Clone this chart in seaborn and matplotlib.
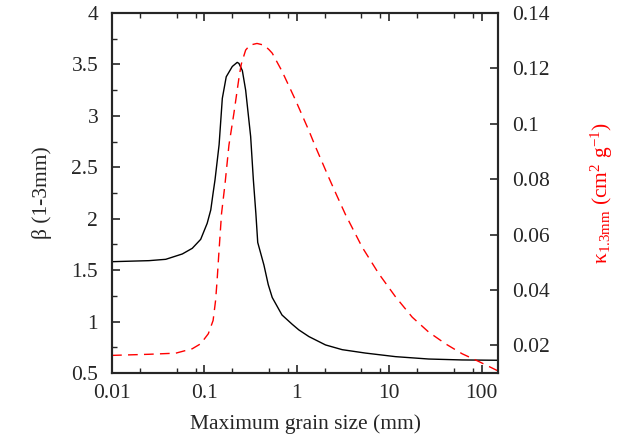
import numpy as np
import pandas as pd
import matplotlib
matplotlib.use("Agg")
import matplotlib.pyplot as plt
from matplotlib.ticker import LogLocator, FixedLocator, MultipleLocator, NullFormatter
import seaborn as sns

# beta (1-3mm) vs maximum grain size
amax_beta = [0.01, 0.0251, 0.0381, 0.0576, 0.0738, 0.091, 0.107, 0.117, 0.124, 0.13,
             0.144, 0.156, 0.172, 0.2, 0.226, 0.236, 0.257, 0.279, 0.316, 0.338,
             0.36, 0.377, 0.44, 0.49, 0.541, 0.69, 0.889, 1.05, 1.35, 2.04,
             3.09, 5.5, 11.7, 26.7, 61.3, 150]
beta = [1.583, 1.593, 1.606, 1.658, 1.713, 1.80, 1.956, 2.086, 2.25, 2.377,
        2.72, 3.17, 3.38, 3.48, 3.52, 3.51, 3.44, 3.25, 2.80, 2.38,
        2.05, 1.77, 1.55, 1.36, 1.235, 1.065, 0.975, 0.92, 0.855, 0.774,
        0.728, 0.695, 0.66, 0.637, 0.628, 0.625]

# kappa at 1.3mm vs maximum grain size
amax_kappa = [0.01, 0.0251, 0.0489, 0.0738, 0.091, 0.11, 0.124, 0.132, 0.137, 0.143,
              0.153, 0.167, 0.184, 0.208, 0.236, 0.25, 0.279, 0.31, 0.37, 0.44,
              0.498, 0.541, 0.69, 0.968, 1.35, 1.59, 2.22, 2.73, 3.36, 5.08,
              7.69, 11.7, 17.7, 26.7, 40.5, 61.3, 92.9, 150]
kappa = [0.0164, 0.0168, 0.0172, 0.0188, 0.0206, 0.0242, 0.029, 0.0363, 0.0435, 0.0531,
         0.0676, 0.0784, 0.0923, 0.1037, 0.1165, 0.1215, 0.1266, 0.1284, 0.129, 0.1284,
         0.1268, 0.1255, 0.119, 0.1085, 0.0975, 0.0917, 0.0805, 0.0738, 0.0672, 0.0555,
         0.0459, 0.0375, 0.0302, 0.0248, 0.0206, 0.017, 0.0142, 0.0108]

x_ticks = [0.01, 0.1, 1, 10, 100]
x_ticklabels = ["0.01", "0.1", "1", "10", "100"]
beta_ticks = [0.5, 1, 1.5, 2, 2.5, 3, 3.5, 4]
beta_ticklabels = ["0.5", "1", "1.5", "2", "2.5", "3", "3.5", "4"]
kappa_ticks = [0.02, 0.04, 0.06, 0.08, 0.1, 0.12, 0.14]
kappa_ticklabels = ["0.02", "0.04", "0.06", "0.08", "0.1", "0.12", "0.14"]

df_b = pd.DataFrame({"amax": amax_beta, "beta": beta})
df_k = pd.DataFrame({"amax": amax_kappa, "kappa": kappa})

sns.set_style("ticks")
plt.rcParams["font.family"] = ["Liberation Serif", "DejaVu Serif"]
plt.rcParams["mathtext.fontset"] = "custom"
plt.rcParams["mathtext.rm"] = "Liberation Serif"
plt.rcParams["mathtext.it"] = "Liberation Serif:italic"

fs = 15.5
fig = plt.figure(figsize=(6.26, 4.4), dpi=100)
ax = fig.add_axes([0.179, 0.152, 0.7955 - 0.179, 0.9705 - 0.152])
ax2 = ax.twinx()

sns.lineplot(data=df_b, x="amax", y="beta", ax=ax, color="black", lw=1.0)
sns.lineplot(data=df_k, x="amax", y="kappa", ax=ax2, color="red", lw=1.0)
ax2.lines[0].set_dashes((7, 4.5))

ax.set_xscale("log")
ax.set_xlim(0.01, 150)
ax.set_ylim(0.5, 4)
ax2.set_ylim(0.01, 0.14)

ax.xaxis.set_major_locator(FixedLocator(x_ticks))
ax.xaxis.set_minor_locator(LogLocator(base=10, subs=[2, 5, 8]))
ax.xaxis.set_minor_formatter(NullFormatter())
ax.set_xticks(x_ticks, x_ticklabels)
ax.set_yticks(beta_ticks, beta_ticklabels)
ax.yaxis.set_minor_locator(MultipleLocator(0.25))
ax2.set_yticks(kappa_ticks, kappa_ticklabels)

ax.tick_params(axis="x", which="both", direction="in", top=True, bottom=True,
               labelsize=fs, pad=8)
ax.tick_params(axis="y", which="both", direction="in", left=True, right=False,
               labelsize=fs, pad=10)
ax.tick_params(which="major", length=6, width=1.2)
ax.tick_params(which="minor", length=3.5, width=1.0)
ax2.tick_params(axis="y", which="both", direction="in", left=False, right=True,
                labelsize=fs, pad=10, length=6, width=1.2)
ax2.tick_params(axis="y", which="minor", right=False)

for a in (ax, ax2):
    for s in a.spines.values():
        s.set_linewidth(1.5)
        s.set_visible(True)

ax.set_xlabel("Maximum grain size (mm)", fontsize=fs, labelpad=8)
ax.set_ylabel("β (1-3mm)", fontsize=fs, labelpad=14)
ax2.set_ylabel(r"κ$_{\mathrm{1.3mm}}$ (cm$^{2}$ g$^{-1}$)", fontsize=fs, color="red",
               labelpad=28)

fig.savefig("out.png", dpi=100)
